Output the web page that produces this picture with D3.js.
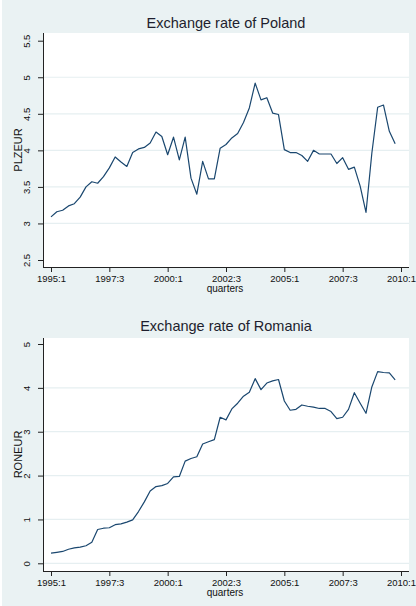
<!DOCTYPE html>
<html><head><meta charset="utf-8">
<script src="https://cdn.jsdelivr.net/npm/d3@7"></script>
<style>body{margin:0;background:#fff}svg{display:block}</style>
</head><body>
<script>
const xTickLabels = ["1995:1","1997:3","2000:1","2002:3","2005:1","2007:3","2010:1"];
const xTickIdx = [0,10,20,30,40,50,60];
const poland = [3.09,3.16,3.18,3.24,3.27,3.36,3.50,3.57,3.55,3.64,3.76,3.91,3.84,3.78,3.97,4.02,4.04,4.10,4.25,4.19,
  3.94,4.18,3.87,4.18,3.62,3.40,3.85,3.61,3.61,4.03,4.08,4.17,4.23,4.38,4.58,4.92,4.69,4.72,4.51,4.49,
  4.01,3.97,3.97,3.93,3.85,4.00,3.95,3.95,3.95,3.82,3.90,3.74,3.77,3.51,3.15,3.96,4.59,4.62,4.26,4.09];
const romania = [0.23,0.25,0.27,0.32,0.35,0.37,0.40,0.48,0.77,0.80,0.81,0.88,0.90,0.94,0.99,1.18,1.40,1.65,1.75,1.77,
  1.82,1.97,1.98,2.33,2.39,2.43,2.72,2.77,2.82,3.33,3.27,3.52,3.65,3.81,3.90,4.21,3.96,4.11,4.16,4.19,
  3.70,3.49,3.51,3.61,3.58,3.56,3.53,3.53,3.46,3.30,3.33,3.51,3.89,3.65,3.42,4.02,4.37,4.35,4.34,4.18];
const polandTicks = [2.5,3,3.5,4,4.5,5,5.5];
const polandGrid = [3,3.5,4,4.5,5];
const romaniaTicks = [0,1,2,3,4,5];
const romaniaGrid = [0,1,2,3,4];

const W=416,H=606;
const svg=d3.select("body").append("svg").attr("width",W).attr("height",H);
svg.append("rect").attr("x",2).attr("y",0).attr("width",W-2).attr("height",H).attr("fill","#eaf2f3");

const FONT="'Liberation Sans', Arial, sans-serif";

function panel(cfg){
  const g=svg.append("g");
  const left=43,right=409;
  g.append("rect").attr("x",left).attr("y",cfg.top).attr("width",right-left).attr("height",cfg.bottom-cfg.top).attr("fill","#fff");
  const x=d3.scaleLinear().domain([0,60]).range([51,401]);
  const y=d3.scaleLinear().domain(cfg.yDom).range(cfg.yRange);
  g.selectAll(".grid").data(cfg.grid).enter().append("line")
    .attr("x1",left).attr("x2",right).attr("y1",d=>y(d)).attr("y2",d=>y(d))
    .attr("stroke","#e6eff1").attr("stroke-width",1.2);
  const line=d3.line().x((d,i)=>x(i)).y(d=>y(d));
  g.append("path").datum(cfg.data).attr("d",line).attr("fill","none")
    .attr("stroke","#1a476f").attr("stroke-width",1.2).attr("stroke-linejoin","round");
  const ya=g.append("g").attr("transform",`translate(${left},0)`)
    .call(d3.axisLeft(y).tickValues(cfg.ticks).tickSize(5).tickFormat(d3.format("")));
  ya.select(".domain").attr("d",`M0.5,${cfg.top}V${cfg.bottom}`).attr("stroke","#222");
  ya.selectAll(".tick line").attr("stroke","#222");
  ya.selectAll(".tick text").attr("transform","rotate(-90)").attr("x",0).attr("y",-13)
    .attr("dy","0").attr("text-anchor","middle").attr("font-family",FONT).attr("font-size",9.5).attr("fill","#111");
  const xa=g.append("g").attr("transform",`translate(0,${cfg.bottom})`)
    .call(d3.axisBottom(x).tickValues(xTickIdx).tickSize(5).tickFormat((d,i)=>xTickLabels[i]));
  xa.select(".domain").attr("d",`M${left},0.5H${right}`).attr("stroke","#222");
  xa.selectAll(".tick line").attr("stroke","#222");
  xa.selectAll(".tick text").attr("y",8).attr("dy","0.71em").attr("font-family",FONT).attr("font-size",9.5).attr("fill","#111");
  g.append("text").attr("x",225).attr("y",cfg.bottom+25).attr("text-anchor","middle")
    .attr("font-family",FONT).attr("font-size",10).attr("fill","#111").text("quarters");
  g.append("text").attr("transform",`translate(22,${(cfg.top+cfg.bottom)/2}) rotate(-90)`).attr("text-anchor","middle")
    .attr("font-family",FONT).attr("font-size",11).attr("fill","#111").text(cfg.ylab);
  g.append("text").attr("x",226).attr("y",cfg.titleY).attr("text-anchor","middle")
    .attr("font-family",FONT).attr("font-size",14.5).attr("fill","#1e1e2e").text(cfg.title);
}

panel({top:33,bottom:267,yDom:[2.5,5.5],yRange:[260,40.7],ticks:polandTicks,grid:polandGrid,
  data:poland,ylab:"PLZEUR",title:"Exchange rate of Poland",titleY:28});
panel({top:338,bottom:571,yDom:[0,5],yRange:[563.3,344],ticks:romaniaTicks,grid:romaniaGrid,
  data:romania,ylab:"RONEUR",title:"Exchange rate of Romania",titleY:331});
</script>
</body></html>
